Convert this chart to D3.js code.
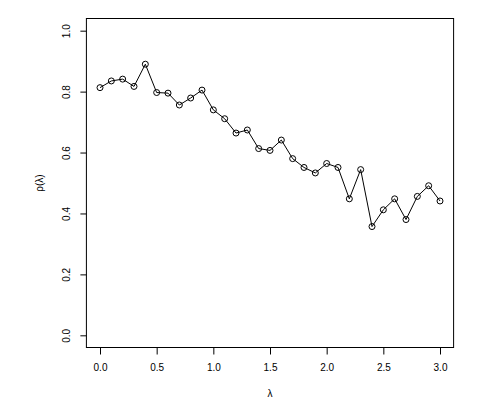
<!DOCTYPE html>
<meta charset="utf-8">
<head>
<script src="https://d3js.org/d3.v7.min.js"></script>
<style>
body { margin: 0; background: #fff; }
text { font-family: "Liberation Sans", Arial, sans-serif; font-size: 10px; fill: #000; }
</style>
</head>
<body>
<script>
// lambda values and rho(lambda)
var lambda = [0.0, 0.1, 0.2, 0.3, 0.4, 0.5, 0.6, 0.7, 0.8, 0.9,
              1.0, 1.1, 1.2, 1.3, 1.4, 1.5, 1.6, 1.7, 1.8, 1.9,
              2.0, 2.1, 2.2, 2.3, 2.4, 2.5, 2.6, 2.7, 2.8, 2.9, 3.0];
var rho = [0.813, 0.835, 0.841, 0.817, 0.890, 0.797, 0.795, 0.756, 0.779, 0.805,
           0.740, 0.711, 0.664, 0.674, 0.613, 0.607, 0.641, 0.580, 0.551, 0.533,
           0.564, 0.551, 0.448, 0.544, 0.357, 0.412, 0.448, 0.380, 0.456, 0.491, 0.441];
var xTicks = [0, 0.5, 1, 1.5, 2, 2.5, 3];
var yTicks = [0, 0.2, 0.4, 0.6, 0.8, 1.0];

var width = 492, height = 413;
var box = {left: 86.4, right: 453.6, top: 18.5, bottom: 347.5};

var x = d3.scaleLinear().domain([-0.12, 3.12]).range([box.left, box.right]);
var y = d3.scaleLinear().domain([-0.04, 1.04]).range([box.bottom, box.top]);

var svg = d3.select("body").append("svg")
    .attr("width", width)
    .attr("height", height);

// plot frame
svg.append("rect")
    .attr("x", box.left).attr("y", box.top)
    .attr("width", box.right - box.left)
    .attr("height", box.bottom - box.top)
    .attr("fill", "none").attr("stroke", "#000").attr("stroke-width", 1);

// x axis
var xa = svg.append("g")
    .attr("transform", "translate(0," + box.bottom + ")")
    .call(d3.axisBottom(x).tickValues(xTicks).tickSize(7).tickPadding(9)
      .tickFormat(d3.format(".1f")));
xa.select(".domain").remove();
xa.selectAll("text").style("font-size", "10px").style("font-family", null);

// y axis, labels rotated like R
var ya = svg.append("g")
    .attr("transform", "translate(" + box.left + ",0)")
    .call(d3.axisLeft(y).tickValues(yTicks).tickSize(6).tickFormat(d3.format(".1f")));
ya.select(".domain").remove();
ya.selectAll("text")
    .style("font-size", "10px").style("font-family", null)
    .attr("x", null).attr("dy", null)
    .attr("text-anchor", "middle")
    .attr("transform", "translate(-20,0) rotate(-90)")
    .attr("y", 3.5);

// the line and open circles
var pts = lambda.map(function(d, i) { return [d, rho[i]]; });
svg.append("path")
    .datum(pts)
    .attr("fill", "none")
    .attr("stroke", "#000")
    .attr("stroke-width", 1)
    .attr("d", d3.line().x(function(d) { return x(d[0]); }).y(function(d) { return y(d[1]); }));

svg.selectAll("circle.pt")
    .data(pts)
  .enter().append("circle")
    .attr("class", "pt")
    .attr("cx", function(d) { return x(d[0]); })
    .attr("cy", function(d) { return y(d[1]); })
    .attr("r", 3)
    .attr("fill", "none")
    .attr("stroke", "#000")
    .attr("stroke-width", 1);

// axis titles
svg.append("text")
    .attr("x", (box.left + box.right) / 2)
    .attr("y", 397)
    .attr("text-anchor", "middle")
    .text("λ");

svg.append("text")
    .attr("text-anchor", "middle")
    .attr("transform", "translate(43," + ((box.top + box.bottom) / 2) + ") rotate(-90)")
    .text("ρ(λ)");
</script>
</body>
